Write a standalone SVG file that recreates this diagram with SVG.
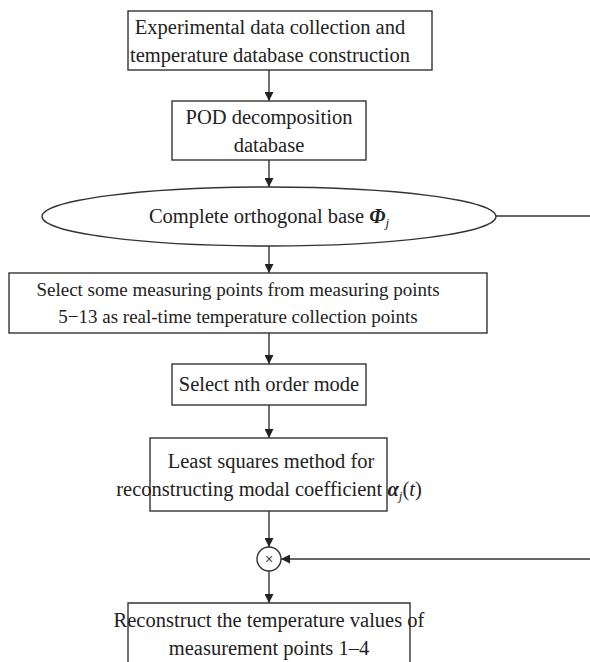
<svg xmlns="http://www.w3.org/2000/svg" width="590" height="662" viewBox="0 0 590 662">
  <defs>
    <marker id="arrow" viewBox="0 0 10 10" refX="10" refY="5" markerWidth="9" markerHeight="9" markerUnits="userSpaceOnUse" orient="auto">
      <path d="M0,0 L10,5 L0,10 Z" fill="#222"/>
    </marker>
    <style>
      .box { fill: #fff; stroke: #333; stroke-width: 1.4; }
      .edge { fill: none; stroke: #333; stroke-width: 1.4; }
      .lbl { font-family: 'Liberation Serif', 'DejaVu Serif', serif; font-size: 20.5px; fill: #222; text-anchor: middle; }
      .small { font-size: 19px; }
      .it { font-style: italic; }
      .bi { font-style: italic; font-weight: bold; }
      .sub { font-size: 13px; font-style: italic; }
    </style>
  </defs>
  <rect width="590" height="662" fill="#fff"/>

  <g id="connectors">
    <line class="edge" x1="269" y1="70" x2="269" y2="101" marker-end="url(#arrow)"/>
    <line class="edge" x1="269" y1="160" x2="269" y2="187" marker-end="url(#arrow)"/>
    <line class="edge" x1="496" y1="216" x2="590" y2="216"/>
    <line class="edge" x1="269" y1="246" x2="269" y2="273" marker-end="url(#arrow)"/>
    <line class="edge" x1="269" y1="333" x2="269" y2="364" marker-end="url(#arrow)"/>
    <line class="edge" x1="269" y1="405" x2="269" y2="438" marker-end="url(#arrow)"/>
    <line class="edge" x1="269" y1="511" x2="269" y2="547" marker-end="url(#arrow)"/>
    <line class="edge" x1="590" y1="559" x2="281" y2="559" marker-end="url(#arrow)"/>
    <line class="edge" x1="269" y1="571" x2="269" y2="603" marker-end="url(#arrow)"/>
  </g>

  <g id="data-collection">
    <rect class="box" x="128" y="11" width="304" height="59"/>
    <text class="lbl" x="270" y="34" font-family="Liberation Serif">Experimental data collection and</text>
    <text class="lbl" x="270" y="62" font-family="Liberation Serif">temperature database construction</text>
  </g>

  <g id="pod-decomposition">
    <rect class="box" x="172" y="101" width="194" height="59"/>
    <text class="lbl" x="269" y="124" font-family="Liberation Serif">POD decomposition</text>
    <text class="lbl" x="269" y="152" font-family="Liberation Serif">database</text>
  </g>

  <g id="orthogonal-base">
    <ellipse class="box" cx="269" cy="216.5" rx="227" ry="29.5"/>
    <text class="lbl" x="269" y="223" font-family="Liberation Serif">Complete orthogonal base <tspan class="bi">Φ</tspan><tspan class="sub" dy="4">j</tspan></text>
  </g>

  <g id="select-points">
    <rect class="box" x="9" y="273" width="478" height="60"/>
    <text class="lbl small" x="238" y="296" font-family="Liberation Serif">Select some measuring points from measuring points</text>
    <text class="lbl small" x="238" y="323" font-family="Liberation Serif">5−13 as real-time temperature collection points</text>
  </g>

  <g id="select-mode">
    <rect class="box" x="172" y="364" width="194" height="41"/>
    <text class="lbl" x="269" y="391" font-family="Liberation Serif">Select nth order mode</text>
  </g>

  <g id="least-squares">
    <rect class="box" x="150" y="438" width="237" height="73"/>
    <text class="lbl" x="271" y="468" font-family="Liberation Serif">Least squares method for</text>
    <text class="lbl" x="269" y="496" font-family="Liberation Serif">reconstructing modal coefficient <tspan class="bi">α</tspan><tspan class="sub" dy="4">j</tspan><tspan dy="-4">(</tspan><tspan class="it">t</tspan>)</text>
  </g>

  <g id="multiply">
    <circle class="box" cx="269" cy="559" r="12"/>
    <text x="269" y="564" font-family="Liberation Sans, Arial, sans-serif" font-size="14" fill="#444" text-anchor="middle">×</text>
  </g>

  <g id="reconstruct">
    <path class="box" d="M128,662 V603 H410 V662"/>
    <text class="lbl" x="269" y="627" font-family="Liberation Serif">Reconstruct the temperature values of</text>
    <text class="lbl" x="269" y="655" font-family="Liberation Serif">measurement points 1–4</text>
  </g>
</svg>
